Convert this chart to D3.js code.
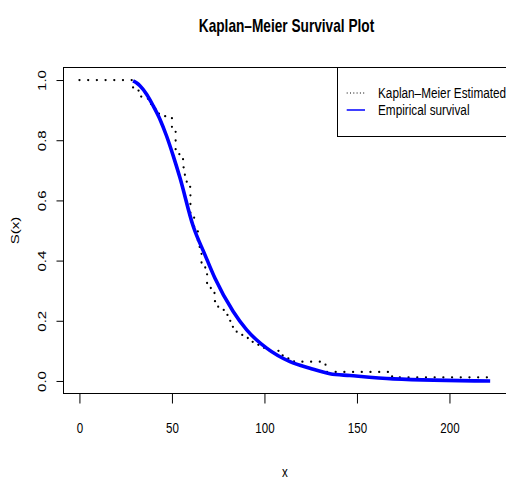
<!DOCTYPE html>
<html>
<head>
<meta charset="utf-8">
<script src="https://cdn.jsdelivr.net/npm/d3@7"></script>
<style>
  body { margin: 0; background: #fff; }
  svg { display: block; }
  text { font-family: "Liberation Sans", Arial, sans-serif; fill: #000; }
</style>
</head>
<body>
<svg id="chart"></svg>
<script>
// Kaplan-Meier step points (time where the drop happens, survival after it)
var kmTime = [0, 29, 33, 37, 41, 43, 50, 52, 54, 56, 57, 58, 60, 62, 64, 65, 66, 68, 69, 71, 73, 75, 78, 80, 82, 85, 88, 91, 95, 99, 102, 108, 112, 116, 133, 169, 221];
var kmSurv = [1, 0.965, 0.945, 0.92, 0.90, 0.88, 0.84, 0.77, 0.74, 0.71, 0.68, 0.645, 0.555, 0.50, 0.46, 0.425, 0.39, 0.355, 0.325, 0.295, 0.265, 0.245, 0.225, 0.20, 0.18, 0.16, 0.145, 0.13, 0.12, 0.11, 0.10, 0.085, 0.075, 0.064, 0.03, 0.012, 0.012];

// empirical survival curve
var empTime = [29, 31, 32.7, 36.3, 39.9, 43.5, 47.1, 50.7, 54.3, 61.5, 67.8, 73.2, 83.1, 90.4, 101.2, 113.8, 124.6, 135.4, 146.2, 169.6, 222];
var empSurv = [0.997, 0.99, 0.981, 0.953, 0.914, 0.87, 0.814, 0.748, 0.676, 0.514, 0.42, 0.342, 0.231, 0.17, 0.109, 0.064, 0.042, 0.024, 0.018, 0.007, 0.0];

var xTicks = [0, 50, 100, 150, 200];
var yTicks = [0, 0.2, 0.4, 0.6, 0.8, 1.0];
var legendLabels = ["Kaplan\u2013Meier Estimated", "Empirical survival"];

var W = 506, H = 479;
var SQ = 0.77; // text looks squeezed horizontally

var svg = d3.select("#chart").attr("width", W).attr("height", H);

var x = d3.scaleLinear().domain([-8.88, 230.88]).range([63, 506.6]);
var y = d3.scaleLinear().domain([-0.04, 1.04]).range([393, 68]);

//标题
svg.append("text")
    .attr("transform", "translate(286.5,32) scale(0.76,1)")
    .attr("text-anchor", "middle")
    .style("font-size", "18px")
    .style("font-weight", "bold")
    .text("Kaplan\u2013Meier Survival Plot");

//x轴
var gx = svg.append("g")
    .attr("transform", "translate(0," + 393.5 + ")")
    .call(d3.axisBottom(x).tickValues(xTicks).tickSize(10).tickFormat(d3.format("d")));
gx.select(".domain").attr("d", "M" + x(0) + ",0H" + x(200)).attr("stroke", "#000");
gx.selectAll("line").attr("stroke", "#000");
gx.selectAll("text")
    .attr("y", 40).attr("dy", null)
    .attr("transform", "scale(" + SQ + ",1)")
    .style("font-size", "15px");

//y轴
var gy = svg.append("g")
    .attr("transform", "translate(" + 63.5 + ",0)")
    .call(d3.axisLeft(y).tickValues(yTicks).tickSize(7).tickFormat(d3.format(".1f")));
gy.select(".domain").attr("d", "M0," + y(0) + "V" + y(1)).attr("stroke", "#000");
gy.selectAll("line").attr("stroke", "#000");
gy.selectAll("text")
    .attr("x", null).attr("dy", null)
    .attr("text-anchor", "middle")
    .attr("transform", "translate(-18,0) scale(" + SQ + ",1) rotate(-90)")
    .style("font-size", "15px");

// axis titles
svg.append("text")
    .attr("transform", "translate(285,477) scale(" + SQ + ",1)")
    .attr("text-anchor", "middle")
    .style("font-size", "15px")
    .text("x");
svg.append("text")
    .attr("transform", "translate(19,230.5) scale(" + SQ + ",1) rotate(-90)")
    .attr("text-anchor", "middle")
    .style("font-size", "15px")
    .text("S(x)");

// plot box
svg.append("rect")
    .attr("x", 63.5).attr("y", 67.5)
    .attr("width", 460).attr("height", 326)
    .attr("fill", "none").attr("stroke", "#000");

svg.append("clipPath").attr("id", "plotclip")
    .append("rect").attr("x", 63).attr("y", 67).attr("width", 460).attr("height", 327);

var kmData = kmTime.map(function (t, i) { return [t, kmSurv[i]]; });
var empData = empTime.map(function (t, i) { return [t, empSurv[i]]; });

var kmLine = d3.line()
    .x(function (d) { return x(d[0]); })
    .y(function (d) { return y(d[1]); })
    .curve(d3.curveStepAfter);

var empLine = d3.line()
    .x(function (d) { return x(d[0]); })
    .y(function (d) { return y(d[1]); })
    .curve(d3.curveMonotoneX);

var plot = svg.append("g").attr("clip-path", "url(#plotclip)");

plot.append("path")
    .datum(kmData)
    .attr("d", kmLine)
    .attr("fill", "none")
    .attr("stroke", "#000")
    .attr("stroke-width", 2.2)
    .attr("stroke-linecap", "round")
    .attr("stroke-dasharray", "0.1,8.6");

plot.append("path")
    .datum(empData)
    .attr("d", empLine)
    .attr("fill", "none")
    .attr("stroke", "#0000ff")
    .attr("stroke-width", 3.6)
    .attr("stroke-linejoin", "round");

// legend
var lg = svg.append("g");
lg.append("rect")
    .attr("x", 337.5).attr("y", 67.5)
    .attr("width", 200).attr("height", 69)
    .attr("fill", "#fff").attr("stroke", "#000");

var rowY = [93, 110];
lg.append("line")
    .attr("x1", 346.7).attr("x2", 365).attr("y1", rowY[0]).attr("y2", rowY[0])
    .attr("stroke", "#000").attr("stroke-width", 1)
    .attr("stroke-dasharray", "1,2.3");
lg.append("line")
    .attr("x1", 346.7).attr("x2", 365).attr("y1", rowY[1]).attr("y2", rowY[1])
    .attr("stroke", "#0000ff").attr("stroke-width", 1.5);

lg.selectAll("text.lab").data(legendLabels).enter()
    .append("text").attr("class", "lab")
    .attr("transform", function (d, i) { return "translate(378," + (rowY[i] + 5) + ") scale(0.785,1)"; })
    .style("font-size", "15px")
    .text(function (d) { return d; });
</script>
</body>
</html>
